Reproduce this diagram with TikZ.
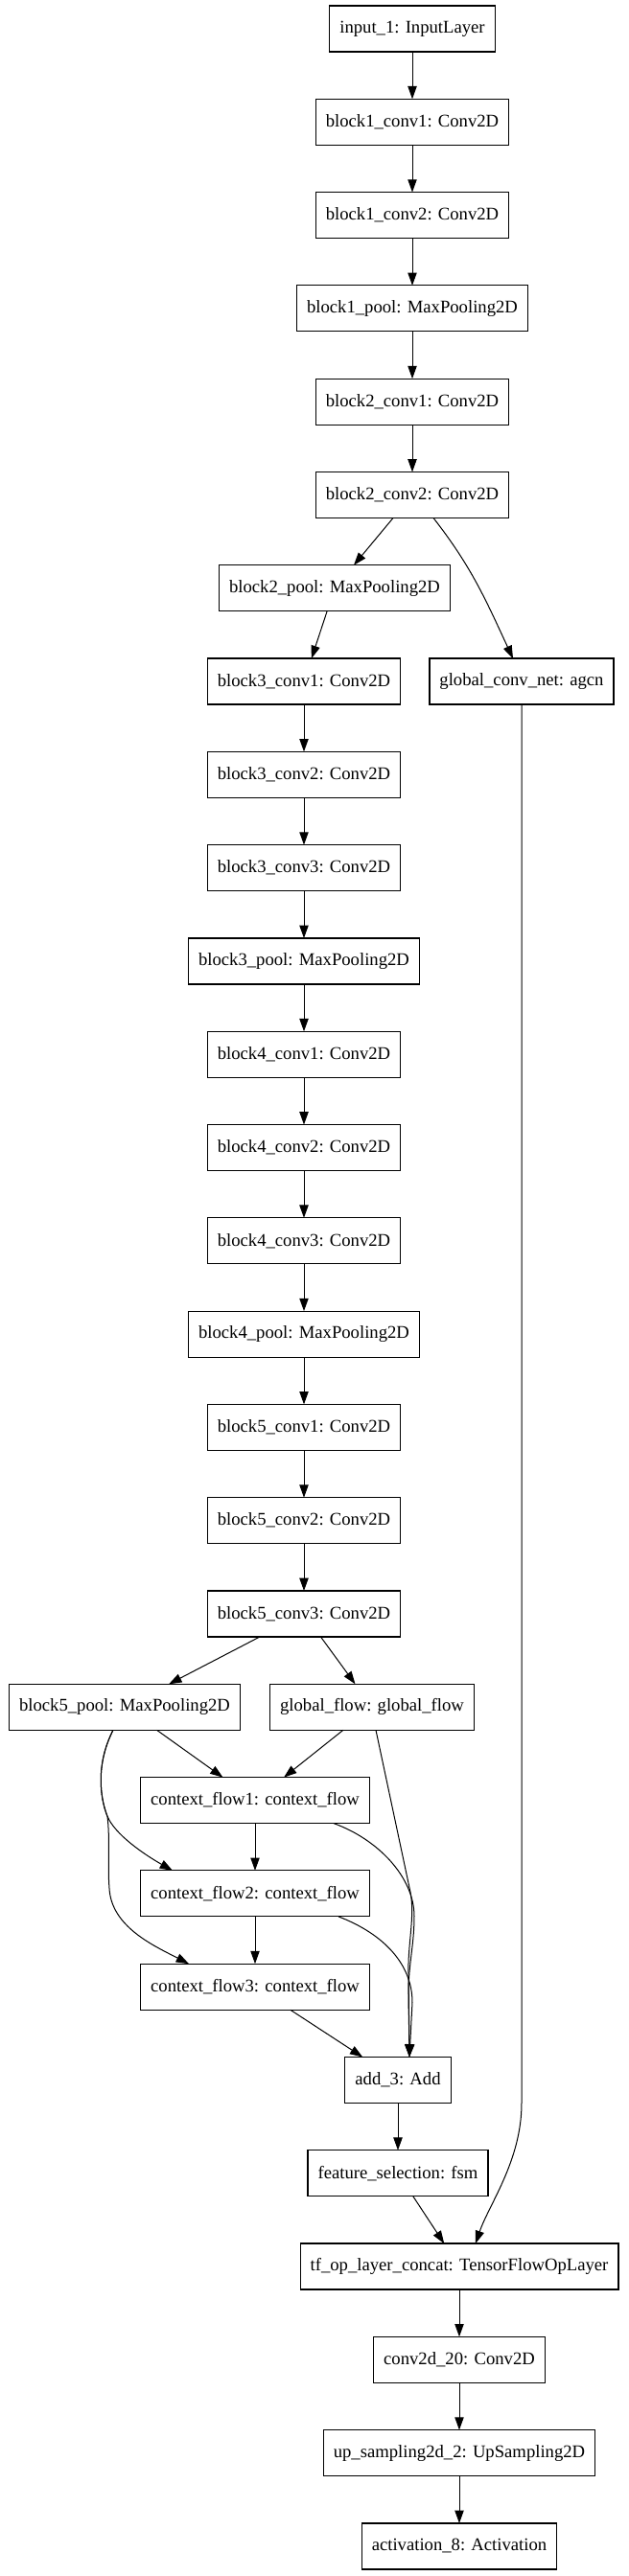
\documentclass[tikz,border=0pt]{standalone}
\usepackage{fontspec}
\setmainfont{Liberation Serif}
\usetikzlibrary{positioning,arrows.meta,calc}

\begin{document}
\begin{tikzpicture}
[layernode/.style={rectangle, draw=black, line width=0.9pt, outer sep=0pt, minimum height=36pt, minimum width=54pt, inner xsep=7.9pt, font=\fontsize{14pt}{16pt}\selectfont},
flowarrow/.style={-{Triangle[length=10pt,width=7pt]}, line width=0.75pt},
node distance=36.97pt
]
\useasboundingbox (0,0) rectangle (492pt,-2016pt);
\node[layernode]	(in1) at (322.5pt,-22.5pt) {input\_1: InputLayer};
\node[layernode]	(b1c1) [below=of in1] {block1\_conv1: Conv2D};
\node[layernode]	(b1c2) [below=of b1c1] {block1\_conv2: Conv2D};
\node[layernode]	(b1p) [below=of b1c2] {block1\_pool: MaxPooling2D};
\node[layernode]	(b2c1) [below=of b1p] {block2\_conv1: Conv2D};
\node[layernode]	(b2c2) [below=of b2c1] {block2\_conv2: Conv2D};
\node[layernode]	(b2p) [below=of b2c2, xshift=-60.75pt] {block2\_pool: MaxPooling2D};
\node[layernode]	(b3c1) [below=of b2p, xshift=-24pt] {block3\_conv1: Conv2D};
\node[layernode]	(gcn) [below=of b2p, xshift=146.25pt] {global\_conv\_net: agcn};
\node[layernode]	(b3c2) [below=of b3c1] {block3\_conv2: Conv2D};
\node[layernode]	(b3c3) [below=of b3c2] {block3\_conv3: Conv2D};
\node[layernode]	(b3p) [below=of b3c3] {block3\_pool: MaxPooling2D};
\node[layernode]	(b4c1) [below=of b3p] {block4\_conv1: Conv2D};
\node[layernode]	(b4c2) [below=of b4c1] {block4\_conv2: Conv2D};
\node[layernode]	(b4c3) [below=of b4c2] {block4\_conv3: Conv2D};
\node[layernode]	(b4p) [below=of b4c3] {block4\_pool: MaxPooling2D};
\node[layernode]	(b5c1) [below=of b4p] {block5\_conv1: Conv2D};
\node[layernode]	(b5c2) [below=of b5c1] {block5\_conv2: Conv2D};
\node[layernode]	(b5c3) [below=of b5c2] {block5\_conv3: Conv2D};
\node[layernode]	(b5p) [below=of b5c3, xshift=-140.25pt] {block5\_pool: MaxPooling2D};
\node[layernode]	(gf) [below=of b5c3, xshift=53.25pt] {global\_flow: global\_flow};
\node[layernode]	(cf1) [below=of b5p, xshift=102pt] {context\_flow1: context\_flow};
\node[layernode]	(cf2) [below=of cf1] {context\_flow2: context\_flow};
\node[layernode]	(cf3) [below=of cf2] {context\_flow3: context\_flow};
\node[layernode]	(add) [below=of cf3, xshift=111.75pt] {add\_3: Add};
\node[layernode]	(fsm) [below=of add] {feature\_selection: fsm};
\node[layernode]	(concat) [below=of fsm, xshift=48pt] {tf\_op\_layer\_concat: TensorFlowOpLayer};
\node[layernode]	(conv20) [below=of concat] {conv2d\_20: Conv2D};
\node[layernode]	(upsamp) [below=of conv20] {up\_sampling2d\_2: UpSampling2D};
\node[layernode]	(act) [below=of upsamp] {activation\_8: Activation};

\draw[flowarrow] (in1) -- (b1c1);
\draw[flowarrow] (b1c1) -- (b1c2);
\draw[flowarrow] (b1c2) -- (b1p);
\draw[flowarrow] (b1p) -- (b2c1);
\draw[flowarrow] (b2c1) -- (b2c2);
\draw[flowarrow] (b2c2) -- (b2p);
\draw[flowarrow] ([xshift=16.5pt]b2c2.south) to[out=-52, in=115] ([xshift=-6.75pt]gcn.north);
\draw[flowarrow] (b2p) -- (b3c1);
\draw[flowarrow] (b3c1) -- (b3c2);
\draw[flowarrow] (b3c2) -- (b3c3);
\draw[flowarrow] (b3c3) -- (b3p);
\draw[flowarrow] (b3p) -- (b4c1);
\draw[flowarrow] (b4c1) -- (b4c2);
\draw[flowarrow] (b4c2) -- (b4c3);
\draw[flowarrow] (b4c3) -- (b4p);
\draw[flowarrow] (b4p) -- (b5c1);
\draw[flowarrow] (b5c1) -- (b5c2);
\draw[flowarrow] (b5c2) -- (b5c3);
\draw[flowarrow] (b5c3) -- (b5p);
\draw[flowarrow] (b5c3) -- (gf);
\draw[flowarrow] (b5p) -- (cf1);
\draw[flowarrow] (gf) -- (cf1);
\draw[flowarrow] (cf1) -- (cf2);
\draw[flowarrow] (cf2) -- (cf3);
\draw[flowarrow] ([xshift=-9pt]b5p.south) .. controls ($(b5p.south)+(-22.5pt,-26.25pt)$) and ($(b5p.south)+(-19.5pt,-52.5pt)$) .. ($(b5p.south)+(-13.5pt,-67.5pt)$) .. controls ($(b5p.south)+(-7.5pt,-81.75pt)$) and ($(cf2.north)+(-87pt,12.75pt)$) .. ([xshift=-64.5pt]cf2.north);
\draw[flowarrow] ([xshift=-9pt]b5p.south) .. controls ($(b5p.south)+(-22.5pt,-26.25pt)$) and ($(b5p.south)+(-19.5pt,-52.5pt)$) .. ($(b5p.south)+(-13.5pt,-67.5pt)$) .. controls ($(b5p.south)+(-11.25pt,-86.25pt)$) and ($(b5p.south)+(-13.5pt,-105pt)$) .. ($(b5p.south)+(-12pt,-123.75pt)$) .. controls ($(b5p.south)+(-10.5pt,-153.75pt)$) and ($(cf3.north)+(-79.5pt,14.25pt)$) .. ([xshift=-51.75pt]cf3.north);
\draw[flowarrow] (cf3) -- (add);
\draw[flowarrow] ([xshift=3pt]gf.south) -- ($(add.north)+(9.75pt,129pt)$) .. controls ($(add.north)+(13.5pt,110.25pt)$) and ($(add.north)+(7.5pt,87.75pt)$) .. ($(add.north)+(8.25pt,65.25pt)$) -- ([xshift=9pt]add.north);
\draw[flowarrow] ([xshift=61.5pt]cf1.south) .. controls ($(cf1.south)+(96.75pt,-12.75pt)$) and ($(add.north)+(12.75pt,140.25pt)$) .. ($(add.north)+(12.75pt,110.25pt)$) .. controls ($(add.north)+(12.75pt,87.75pt)$) and ($(add.north)+(8.25pt,72.75pt)$) .. ($(add.north)+(8.25pt,50.25pt)$) -- ([xshift=9pt]add.north);
\draw[flowarrow] ([xshift=65.25pt]cf2.south) .. controls ($(cf2.south)+(100.5pt,-13.5pt)$) and ($(add.north)+(11.25pt,72.75pt)$) .. ($(add.north)+(11.25pt,42.75pt)$) -- ([xshift=9pt]add.north);
\draw[flowarrow] (add) -- (fsm);
\draw[flowarrow] (fsm) -- (concat);
\draw[flowarrow] (gcn.south) -- (gcn.south |- add.south) .. controls ($(gcn.south |- add.south)+(0,-45pt)$) and ($(concat.north)+(23.25pt,30.75pt)$) .. ([xshift=12.75pt]concat.north);
\draw[flowarrow] (concat) -- (conv20);
\draw[flowarrow] (conv20) -- (upsamp);
\draw[flowarrow] (upsamp) -- (act);
\end{tikzpicture}
\end{document}
